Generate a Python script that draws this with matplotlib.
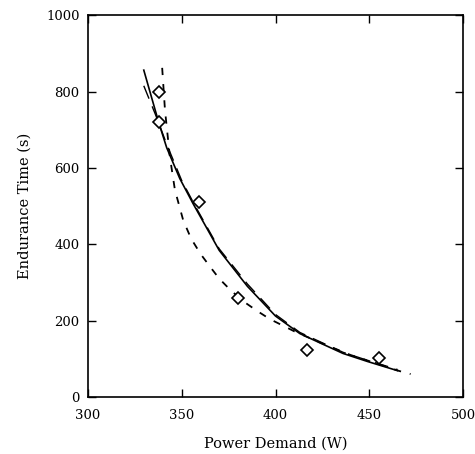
import matplotlib
matplotlib.use("Agg")
import matplotlib.pyplot as plt

# measured data (diamonds)
power_pts = [338, 338, 359, 380, 417, 455]
time_pts = [800, 720, 510, 260, 123, 102]

# solid fitted curve
solid_p = [329.8, 337.7, 342, 349, 356, 370, 385, 400, 413, 424, 436, 449, 465]
solid_t = [856, 720, 653, 572, 507, 384, 290, 212, 166, 141, 114, 93, 69]

# long dashed curve
long_p = [329.8, 336, 342, 350, 357, 370, 385, 400, 413, 424, 436, 449, 465]
long_t = [815, 740, 662, 567, 502, 388, 296, 216, 169, 144, 117, 96, 72]

# short dashed curve
short_p = [339.6, 341.1, 343.7, 346.4, 350.8, 355, 360, 365, 370, 376, 383, 390, 397,
           410, 425, 440, 455, 466, 472]
short_t = [862, 751, 629, 542, 463, 415, 375, 342, 310, 280, 250, 226, 204,
           172, 140, 110, 86, 68, 60]

plt.rcParams['font.family'] = ['DejaVu Serif']

fig = plt.figure(figsize=(4.75, 4.54), dpi=100)
ax = fig.add_axes([0.185, 0.1256, 0.79, 0.841])

ax.plot(solid_p, solid_t, color='black', linewidth=1.2)
ax.plot(long_p, long_t, color='black', linewidth=1.0, dashes=(10, 6))
ax.plot(short_p, short_t, color='black', linewidth=1.3, dashes=(4, 5))
ax.plot(power_pts, time_pts, linestyle='none', marker='D', markersize=6.5,
        markerfacecolor='white', markeredgecolor='black', markeredgewidth=1.2)

ax.set_xlim(300, 500)
ax.set_ylim(0, 1000)
ax.set_xticks([300, 350, 400, 450, 500])
ax.set_yticks([0, 200, 400, 600, 800, 1000])
ax.tick_params(direction='in', length=6, width=1, top=True, right=True,
               labelsize=9.5, pad=6)
ax.tick_params(axis='x', pad=9)
for s in ax.spines.values():
    s.set_linewidth(1.2)

ax.set_xlabel('Power Demand (W)', fontsize=10.5, labelpad=10)
ax.set_ylabel('Endurance Time (s)', fontsize=10.5, labelpad=10)

fig.savefig('out.png', dpi=100)
